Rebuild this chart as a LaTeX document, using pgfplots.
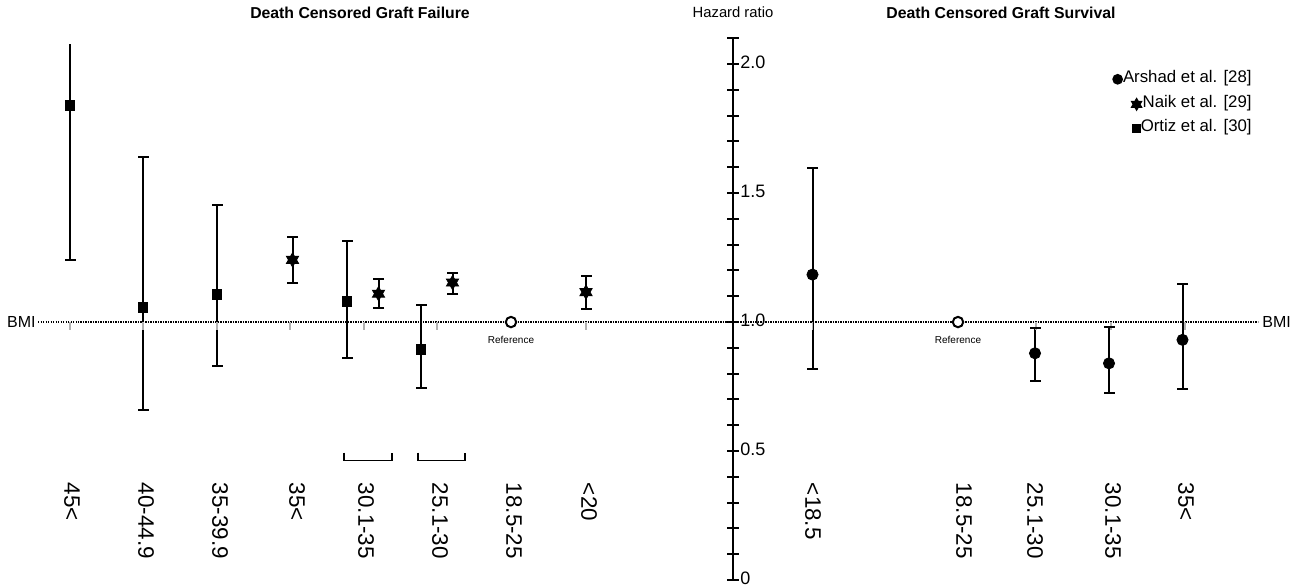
\documentclass[border=0pt]{standalone}
\usepackage{pgfplots}
\usepackage{pgfplotstable}
\pgfplotsset{compat=1.18}
\usepackage{fontspec}
\setmainfont{Liberation Sans}

\pgfdeclareplotmark{hexstar}{%
  \pgfpathmoveto{\pgfqpointpolar{90}{\pgfplotmarksize}}%
  \pgfpathlineto{\pgfqpointpolar{210}{\pgfplotmarksize}}%
  \pgfpathlineto{\pgfqpointpolar{330}{\pgfplotmarksize}}%
  \pgfpathclose
  \pgfpathmoveto{\pgfqpointpolar{270}{\pgfplotmarksize}}%
  \pgfpathlineto{\pgfqpointpolar{30}{\pgfplotmarksize}}%
  \pgfpathlineto{\pgfqpointpolar{150}{\pgfplotmarksize}}%
  \pgfpathclose
  \pgfusepathqfillstroke
}

\newcommand{\hexglyph}{\tikz[baseline=-0.4ex]{\fill[black] (90:3.5pt)--(210:3.5pt)--(330:3.5pt)--cycle (270:3.5pt)--(30:3.5pt)--(150:3.5pt)--cycle;}}
\newcommand{\circglyph}{\tikz[baseline=-0.4ex]{\fill[black] (0,0) circle (2.7pt);}}
\newcommand{\sqglyph}{\tikz[baseline=-0.4ex]{\fill[black] (-2.3pt,-2.3pt) rectangle (2.3pt,2.3pt);}}

% x = pixel position - 733 ; y = hazard ratio
\pgfplotstableread{
x y lo hi
-590 1.056 0.661 1.641
-516 1.107 0.831 1.452
-386 1.081 0.862 1.313
-312 0.895 0.745 1.068
}\ortiz
\pgfplotstableread{
x y lo hi
-440.5 1.241 1.150 1.329
-354.5 1.110 1.056 1.166
-280.5 1.153 1.110 1.191
-147 1.116 1.051 1.180
}\naik
\pgfplotstableread{
x y lo hi
79.5 1.184 0.819 1.599
302 0.879 0.771 0.976
376 0.840 0.726 0.981
449.5 0.931 0.741 1.148
}\arshad

\pgfplotsset{
  ebar/.style={only marks, black,
    error bars/y dir=both, error bars/y explicit,
    error bars/error mark=none,
    error bars/error bar style={line width=1pt, black}},
  cap/.style={only marks, black, mark=-, mark size=2.75pt, mark options={line width=1pt, black}},
}

\begin{document}
\begin{tikzpicture}
\begin{axis}[
  x=0.5pt, y=129pt,
  xmin=-733, xmax=570, ymin=0, ymax=2.1,
  axis x line=none, axis y line=center,
  axis line style={-, line width=1pt, black},
  ytick={0,0.5,1,1.5,2}, yticklabels={0,0.5,1.0,1.5,2.0},
  minor ytick={0.1,0.2,0.3,0.4,0.6,0.7,0.8,0.9,1.1,1.2,1.3,1.4,1.6,1.7,1.8,1.9,2.1},
  tick align=center, major tick length=6pt, minor tick length=6pt,
  major tick style={line width=1pt, black}, minor tick style={line width=1pt, black},
  yticklabel style={anchor=west, inner sep=0pt, xshift=6.5pt, yshift=0.9pt, font=\fontsize{9}{10}\selectfont},
  clip=false,
]
\path (axis cs:-733,-0.024) rectangle (axis cs:570,2.2461);

% BMI dotted line
\addplot[black, line width=0.7pt, dash pattern=on 0.6pt off 0.65pt] coordinates {(-695,1) (525,1)};
% small grey category ticks
\addplot[only marks, mark=|, mark size=2pt, gray!60, mark options={line width=0.6pt}] coordinates {
(-663,0.9845) (-590,0.9845) (-516,0.9845) (-443,0.9845) (-369,0.9845) (-296,0.9845) (-147,0.9845)
(79.5,0.9845) (303,0.9845) (378,0.9845) (452,0.9845)};

% Ortiz
\addplot[ebar, mark=square*, mark size=2.4pt] table[x=x, y=y, y error plus expr=\thisrow{hi}-\thisrow{y}, y error minus expr=\thisrow{y}-\thisrow{lo}] {\ortiz};
\addplot[cap] table[x=x, y=lo] {\ortiz};
\addplot[cap] table[x=x, y=hi] {\ortiz};
% Ortiz 45< (upper limit beyond range)
\addplot[black, line width=1pt, no marks] coordinates {(-663,1.242) (-663,2.079)};
\addplot[cap] coordinates {(-663,1.242)};
\addplot[only marks, black, mark=square*, mark size=2.4pt] coordinates {(-663,1.839)};
% Naik
\addplot[ebar, mark=hexstar, mark size=3.5pt] table[x=x, y=y, y error plus expr=\thisrow{hi}-\thisrow{y}, y error minus expr=\thisrow{y}-\thisrow{lo}] {\naik};
\addplot[cap] table[x=x, y=lo] {\naik};
\addplot[cap] table[x=x, y=hi] {\naik};
% Arshad
\addplot[ebar, mark=*, mark size=2.8pt] table[x=x, y=y, y error plus expr=\thisrow{hi}-\thisrow{y}, y error minus expr=\thisrow{y}-\thisrow{lo}] {\arshad};
\addplot[cap] table[x=x, y=lo] {\arshad};
\addplot[cap] table[x=x, y=hi] {\arshad};
% Reference
\addplot[only marks, mark=*, mark size=2.6pt, mark options={fill=white, draw=black, line width=1pt}] coordinates {(-222,1) (225,1)};

% brackets
\addplot[black, line width=0.8pt] coordinates {(-389,0.494) (-389,0.463) (-341,0.463) (-341,0.494)};
\addplot[black, line width=0.8pt] coordinates {(-315,0.494) (-315,0.463) (-268,0.463) (-268,0.494)};

% texts
\node[font=\fontsize{5}{6}\selectfont] at (axis cs:-222,0.932) {Reference};
\node[font=\fontsize{5}{6}\selectfont] at (axis cs:225,0.932) {Reference};
\node[anchor=east, inner sep=0pt, font=\fontsize{8}{9}\selectfont] at (axis cs:-697,1) {BMI};
\node[anchor=west, inner sep=0pt, font=\fontsize{8}{9}\selectfont] at (axis cs:529,1) {BMI};

\node[font=\bfseries\fontsize{7.9}{9}\selectfont] at (axis cs:-373,2.2) {Death Censored Graft Failure};
\node[font=\fontsize{7.4}{9}\selectfont] at (axis cs:0,2.2) {Hazard ratio};
\node[font=\bfseries\fontsize{7.9}{9}\selectfont] at (axis cs:268,2.2) {Death Censored Graft Survival};

\node[anchor=east, inner sep=0pt, font=\fontsize{8.4}{9}\selectfont] at (axis cs:519,1.944) {\circglyph Arshad et al. [28]};
\node[anchor=east, inner sep=0pt, font=\fontsize{8.4}{9}\selectfont] at (axis cs:519,1.847) {\hexglyph Naik et al. [29]};
\node[anchor=east, inner sep=0pt, font=\fontsize{8.4}{9}\selectfont] at (axis cs:519,1.754) {\sqglyph Ortiz et al. [30]};

\begin{scope}[every node/.style={rotate=-90, anchor=west, inner sep=0pt, font=\fontsize{11.2}{12}\selectfont}]
\node at (axis cs:-661,0.378) {45<};
\node at (axis cs:-587,0.378) {40-44.9};
\node at (axis cs:-513,0.378) {35-39.9};
\node at (axis cs:-436,0.378) {35<};
\node at (axis cs:-367,0.378) {30.1-35};
\node at (axis cs:-293,0.378) {25.1-30};
\node at (axis cs:-219,0.378) {18.5-25};
\node at (axis cs:-144,0.378) {<20};
\node at (axis cs:80,0.378) {<18.5};
\node at (axis cs:231,0.378) {18.5-25};
\node at (axis cs:302,0.378) {25.1-30};
\node at (axis cs:380,0.378) {30.1-35};
\node at (axis cs:453,0.378) {35<};
\end{scope}
\end{axis}
\end{tikzpicture}
\end{document}
